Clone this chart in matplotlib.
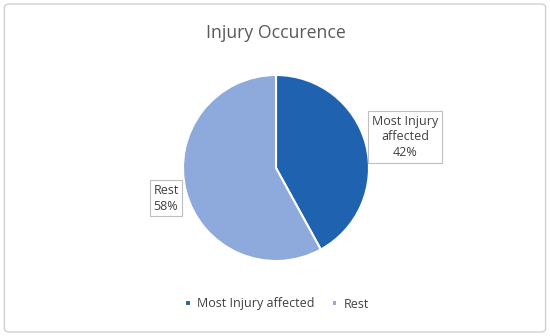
import matplotlib.pyplot as plt
from matplotlib.patches import FancyBboxPatch

categories = ['Most Injury affected', 'Rest']
shares = [42, 58]
colors = ['#1F63B0', '#8EA9DB']
title = 'Injury Occurence'

plt.rcParams['font.family'] = ['Open Sans', 'DejaVu Sans']

fig = plt.figure(figsize=(5.5, 3.36), dpi=100)
# outer chart border
fig.patches.append(FancyBboxPatch((0.008, 0.012), 0.984, 0.976, boxstyle='round,pad=0,rounding_size=0.01',
                                  transform=fig.transFigure, fill=False, edgecolor='#D0D0D0', lw=1))

ax = fig.add_axes([0, 0, 1, 1])
cx, cy, r = 276, 336 - 168, 93
wedges, _ = ax.pie(shares, colors=colors, startangle=90, counterclock=False,
                   center=(cx, cy), radius=r,
                   wedgeprops=dict(edgecolor='white', linewidth=1.5))
ax.set_xlim(0, 550)
ax.set_ylim(0, 336)
ax.set_aspect('equal')
ax.axis('off')

ax.text(cx, 336 - 33, title, ha='center', va='center', fontsize=12.7, color='#595959')

box = dict(boxstyle='square,pad=0.3', fc='white', ec='#BFBFBF', lw=0.8)
ax.text(405, 336 - 137, f'Most Injury\naffected\n{shares[0]}%', ha='center', va='center',
        fontsize=9, color='#404040', bbox=box, linespacing=1.3)
ax.text(166, 336 - 198, f'Rest\n{shares[1]}%', ha='center', va='center',
        fontsize=9, color='#404040', bbox=box, linespacing=1.3)

leg = ax.legend(wedges, categories, loc='center', bbox_to_anchor=(277 / 550, 1 - 304 / 336),
                ncol=2, frameon=False, fontsize=9, handlelength=0.45, handleheight=0.45,
                handletextpad=0.5, columnspacing=1.4)
for t in leg.get_texts():
    t.set_color('#404040')

fig.savefig('out.png', dpi=100)
